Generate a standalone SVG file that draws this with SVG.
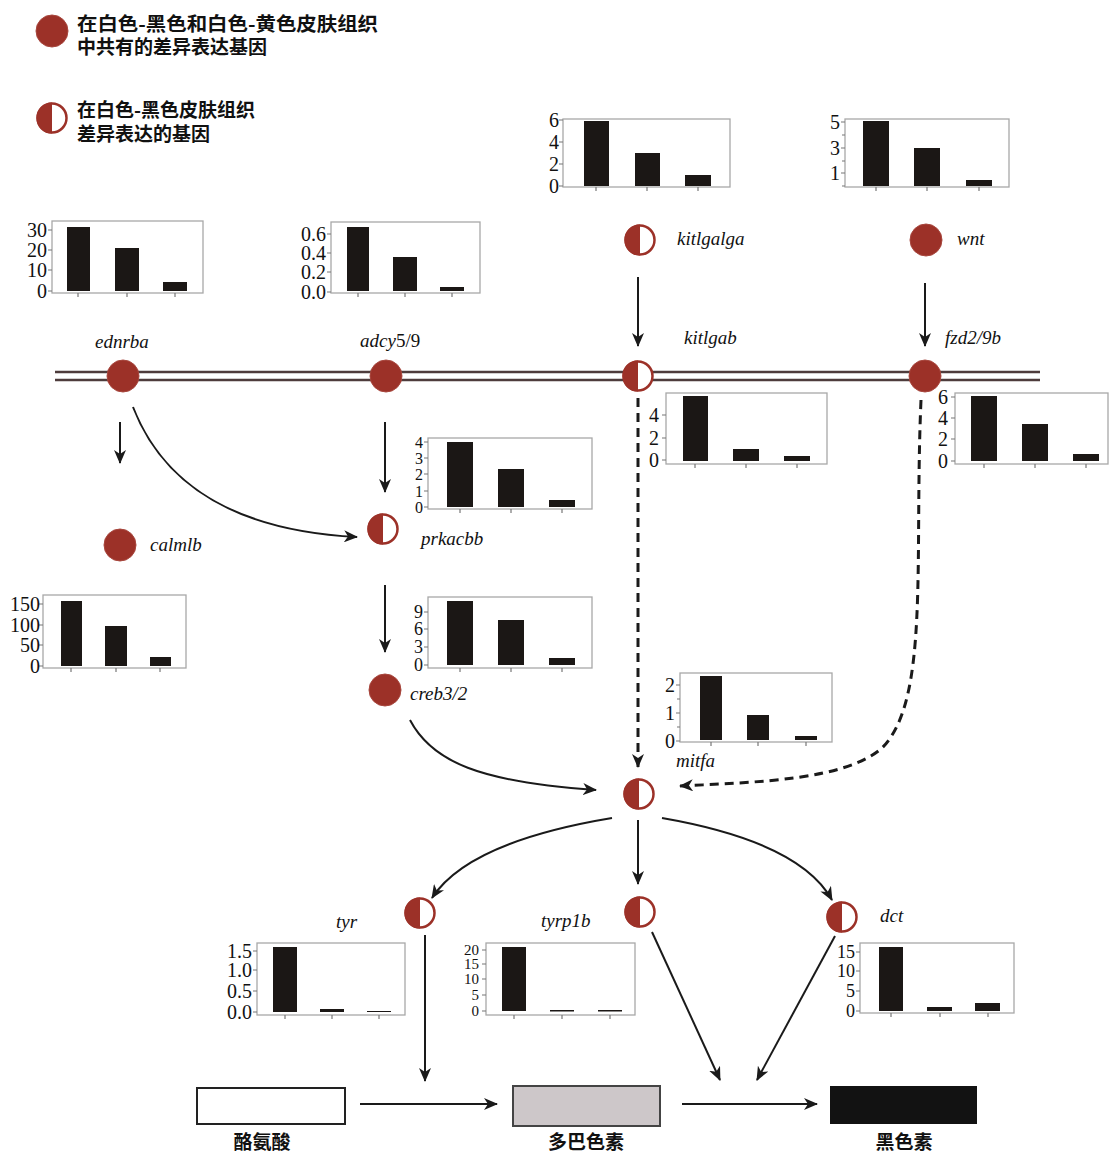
<svg xmlns="http://www.w3.org/2000/svg" width="1110" height="1153" viewBox="0 0 1110 1153">
<style>
.cjk{font-family:"Noto Sans CJK SC","Noto Sans CJK JP",sans-serif;font-weight:bold;font-size:19px;fill:#111}
.gene{font-family:"Liberation Serif",serif;font-style:italic;font-size:19px;fill:#111}
.ax{font-family:"Liberation Serif",serif;font-size:20px;fill:#111;text-anchor:end}
.axs{font-size:16px}
.frame{fill:#fff;stroke:#a8a8a8;stroke-width:1.3}
.bar{fill:#1b1715}
.tick{stroke:#777;stroke-width:1.2}
.arr{fill:none;stroke:#1a1a1a;stroke-width:2;marker-end:url(#ah)}
.dash{fill:none;stroke:#1a1a1a;stroke-width:3;stroke-dasharray:9 6;marker-end:url(#ah)}
.rail{stroke:#4e3c3c;stroke-width:2.5}
</style>
<defs>
<marker id="ah" markerUnits="userSpaceOnUse" markerWidth="14" markerHeight="12" refX="13" refY="6" orient="auto">
<path d="M0,0 L14,6 L0,12 L4,6 Z" fill="#1a1a1a"/>
</marker>
<g id="full"><circle r="16" fill="#9c3128" stroke="#a8473e" stroke-width="1"/></g>
<g id="half"><circle r="14.5" fill="#fff" stroke="#9c3128" stroke-width="2.5"/><path d="M0,-15.5 A15.5,15.5 0 0 0 0,15.5 Z" fill="#9c3128"/></g>
</defs>

<!-- legend -->
<g id="legend">
<use href="#full" x="52" y="31"/>
<text class="cjk" x="77" y="31" textLength="301" lengthAdjust="spacingAndGlyphs">在白色-黑色和白色-黄色皮肤组织</text>
<text class="cjk" x="77" y="54">中共有的差异表达基因</text>
<use href="#half" x="52" y="118"/>
<text class="cjk" x="77" y="117">在白色-黑色皮肤组织</text>
<text class="cjk" x="77" y="141">差异表达的基因</text>
</g>

<!-- membrane -->
<g id="membrane">
<line class="rail" x1="55" y1="372" x2="1040" y2="372"/>
<line class="rail" x1="55" y1="380" x2="1040" y2="380"/>
</g>

<!-- connectors -->
<g id="connectors">
<line class="arr" x1="638" y1="277" x2="638" y2="346"/>
<line class="arr" x1="925" y1="283" x2="925" y2="346"/>
<line class="arr" x1="120" y1="422" x2="120" y2="463"/>
<path class="arr" d="M133,407 Q180,528 357,537"/>
<line class="arr" x1="385" y1="422" x2="385" y2="492"/>
<line class="arr" x1="385" y1="585" x2="385" y2="652"/>
<path class="arr" d="M410,720 C432,762 480,782 596,790"/>
<line class="dash" x1="638" y1="398" x2="638" y2="767"/>
<path class="dash" d="M921,400 C914,560 930,700 882,748 C845,780 760,782 680,786"/>
<path class="arr" d="M612,818 Q468,842 432,898"/>
<line class="arr" x1="638" y1="820" x2="638" y2="884"/>
<path class="arr" d="M662,818 Q800,842 832,900"/>
<line class="arr" x1="425" y1="935" x2="425" y2="1081"/>
<line class="arr" x1="652" y1="932" x2="720" y2="1080"/>
<line class="arr" x1="835" y1="936" x2="757" y2="1080"/>
<line class="arr" x1="360" y1="1104" x2="497" y2="1104"/>
<line class="arr" x1="682" y1="1104" x2="817" y2="1104"/>
</g>

<!-- nodes -->
<g id="n-kitlgalga"><use href="#half" x="640" y="240"/><text class="gene" x="677" y="245">kitlgalga</text></g>
<g id="n-wnt"><use href="#full" x="926" y="240"/><text class="gene" x="957" y="245">wnt</text></g>
<g id="n-ednrba"><use href="#full" x="123" y="376"/><text class="gene" x="95" y="348">ednrba</text></g>
<g id="n-adcy"><use href="#full" x="386" y="376"/><text class="gene" x="360" y="347">adcy<tspan font-style="normal">5/9</tspan></text></g>
<g id="n-kitlgab"><use href="#half" x="638" y="376"/><text class="gene" x="684" y="344">kitlgab</text></g>
<g id="n-fzd2"><use href="#full" x="925" y="376"/><text class="gene" x="945" y="344">fzd2/9b</text></g>
<g id="n-calmlb"><use href="#full" x="120" y="545"/><text class="gene" x="150" y="551">calmlb</text></g>
<g id="n-prkacbb"><use href="#half" x="383" y="529"/><text class="gene" x="421" y="545">prkacbb</text></g>
<g id="n-creb"><use href="#full" x="385" y="690"/><text class="gene" x="410" y="700">creb3/2</text></g>
<g id="n-mitfa"><use href="#half" x="639" y="794"/><text class="gene" x="676" y="767">mitfa</text></g>
<g id="n-tyr"><use href="#half" x="420" y="913"/><text class="gene" x="336" y="928">tyr</text></g>
<g id="n-tyrp1b"><use href="#half" x="640" y="912"/><text class="gene" x="541" y="927">tyrp1b</text></g>
<g id="n-dct"><use href="#half" x="842" y="917"/><text class="gene" x="880" y="922">dct</text></g>

<!-- substrates -->
<g id="n-tyrosine"><rect x="197" y="1088" width="148" height="36" fill="#fff" stroke="#222" stroke-width="2"/><text class="cjk" x="262" y="1149" text-anchor="middle">酪氨酸</text></g>
<g id="n-dopachrome"><rect x="513" y="1086" width="147" height="40" fill="#cdc7c9" stroke="#444" stroke-width="2"/><text class="cjk" x="586" y="1149" text-anchor="middle">多巴色素</text></g>
<g id="n-melanin"><rect x="830" y="1086" width="147" height="38" fill="#121212"/><text class="cjk" x="904" y="1149" text-anchor="middle">黑色素</text></g>

<!-- charts -->
<g id="c-ednrba">
<rect class="frame" x="52" y="221" width="151" height="72"/>
<rect class="bar" x="67" y="227" width="23" height="64"/><rect class="bar" x="115" y="248" width="24" height="43"/><rect class="bar" x="163" y="282" width="24" height="9"/>
<path class="tick" d="M48,230H52M48,250H52M48,270H52M48,291H52M78,293V297M127,293V297M175,293V297"/>
<text class="ax" x="47" y="237">30</text><text class="ax" x="47" y="257">20</text><text class="ax" x="47" y="277">10</text><text class="ax" x="47" y="298">0</text>
</g>
<g id="c-adcy">
<rect class="frame" x="331" y="222" width="149" height="71"/>
<rect class="bar" x="347" y="227" width="22" height="64"/><rect class="bar" x="393" y="257" width="24" height="34"/><rect class="bar" x="440" y="287" width="24" height="4"/>
<path class="tick" d="M327,234H331M327,253H331M327,272H331M327,292H331M358,293V297M405,293V297M452,293V297"/>
<text class="ax" x="326" y="241">0.6</text><text class="ax" x="326" y="260">0.4</text><text class="ax" x="326" y="279">0.2</text><text class="ax" x="326" y="299">0.0</text>
</g>
<g id="c-kitlgalga">
<rect class="frame" x="563" y="119" width="167" height="68"/>
<rect class="bar" x="584" y="121" width="25" height="65"/><rect class="bar" x="635" y="153" width="25" height="33"/><rect class="bar" x="685" y="175" width="26" height="11"/>
<path class="tick" d="M559,120H563M559,142H563M559,164H563M559,186H563M596,187V191M647,187V191M698,187V191"/>
<text class="ax" x="559" y="127">6</text><text class="ax" x="559" y="149">4</text><text class="ax" x="559" y="171">2</text><text class="ax" x="559" y="193">0</text>
</g>
<g id="c-wnt">
<rect class="frame" x="845" y="119" width="164" height="68"/>
<rect class="bar" x="863" y="121" width="26" height="65"/><rect class="bar" x="914" y="148" width="26" height="38"/><rect class="bar" x="966" y="180" width="26" height="6"/>
<path class="tick" d="M841,122H845M842,135H845M841,148H845M842,161H845M841,173H845M842,186H845M876,187V191M927,187V191M979,187V191"/>
<text class="ax" x="840" y="129">5</text><text class="ax" x="840" y="155">3</text><text class="ax" x="840" y="180">1</text>
</g>
<g id="c-kitlgab">
<rect class="frame" x="666" y="393" width="161" height="71"/>
<rect class="bar" x="683" y="396" width="25" height="65"/><rect class="bar" x="733" y="449" width="26" height="12"/><rect class="bar" x="784" y="456" width="26" height="5"/>
<path class="tick" d="M662,415H666M662,438H666M662,460H666M695,464V468M746,464V468M797,464V468"/>
<text class="ax" x="659" y="422">4</text><text class="ax" x="659" y="445">2</text><text class="ax" x="659" y="467">0</text>
</g>
<g id="c-fzd2">
<rect class="frame" x="955" y="393" width="153" height="71"/>
<rect class="bar" x="971" y="396" width="26" height="65"/><rect class="bar" x="1022" y="424" width="26" height="37"/><rect class="bar" x="1073" y="454" width="26" height="7"/>
<path class="tick" d="M951,397H955M951,418H955M951,439H955M951,461H955M984,464V468M1035,464V468M1086,464V468"/>
<text class="ax" x="948" y="404">6</text><text class="ax" x="948" y="425">4</text><text class="ax" x="948" y="446">2</text><text class="ax" x="948" y="468">0</text>
</g>
<g id="c-prkacbb">
<rect class="frame" x="428" y="438" width="164" height="71"/>
<rect class="bar" x="447" y="442" width="26" height="65"/><rect class="bar" x="498" y="469" width="26" height="38"/><rect class="bar" x="549" y="500" width="26" height="7"/>
<path class="tick" d="M424,442H428M424,458H428M424,474H428M424,491H428M424,507H428M460,509V513M511,509V513M562,509V513"/>
<g class="ax axs"><text x="423" y="448">4</text><text x="423" y="464">3</text><text x="423" y="480">2</text><text x="423" y="497">1</text><text x="423" y="513">0</text></g>
</g>
<g id="c-creb">
<rect class="frame" x="428" y="597" width="164" height="71"/>
<rect class="bar" x="447" y="601" width="26" height="64"/><rect class="bar" x="498" y="620" width="26" height="45"/><rect class="bar" x="549" y="658" width="26" height="7"/>
<path class="tick" d="M424,612H428M424,629H428M424,647H428M424,665H428M460,668V672M511,668V672M562,668V672"/>
<g class="ax" style="font-size:18px"><text x="423" y="618">9</text><text x="423" y="635">6</text><text x="423" y="653">3</text><text x="423" y="671">0</text></g>
</g>
<g id="c-calmlb">
<rect class="frame" x="43" y="595" width="143" height="73"/>
<rect class="bar" x="61" y="601" width="21" height="65"/><rect class="bar" x="105" y="626" width="22" height="40"/><rect class="bar" x="150" y="657" width="21" height="9"/>
<path class="tick" d="M39,604H43M39,625H43M39,645H43M39,666H43M71,668V672M116,668V672M160,668V672"/>
<text class="ax" x="40" y="611">150</text><text class="ax" x="40" y="632">100</text><text class="ax" x="40" y="652">50</text><text class="ax" x="40" y="673">0</text>
</g>
<g id="c-mitfa">
<rect class="frame" x="680" y="673" width="152" height="69"/>
<rect class="bar" x="700" y="676" width="22" height="64"/><rect class="bar" x="747" y="715" width="22" height="25"/><rect class="bar" x="795" y="736" width="22" height="4"/>
<path class="tick" d="M676,685H680M677,699H680M676,713H680M677,727H680M676,741H680M711,742V746M758,742V746M806,742V746"/>
<text class="ax" x="675" y="692">2</text><text class="ax" x="675" y="720">1</text><text class="ax" x="675" y="748">0</text>
</g>
<g id="c-tyr">
<rect class="frame" x="257" y="943" width="148" height="72"/>
<rect class="bar" x="273" y="947" width="24" height="65"/><rect class="bar" x="320" y="1009" width="24" height="3"/><rect class="bar" x="367" y="1011" width="24" height="1"/>
<path class="tick" d="M253,951H257M253,970H257M253,991H257M253,1012H257M285,1015V1019M332,1015V1019M379,1015V1019"/>
<text class="ax" x="252" y="958">1.5</text><text class="ax" x="252" y="977">1.0</text><text class="ax" x="252" y="998">0.5</text><text class="ax" x="252" y="1019">0.0</text>
</g>
<g id="c-tyrp1b">
<rect class="frame" x="486" y="943" width="149" height="72"/>
<rect class="bar" x="502" y="947" width="24" height="64"/><rect class="bar" x="550" y="1010" width="24" height="1.5"/><rect class="bar" x="598" y="1010" width="24" height="1.5"/>
<path class="tick" d="M482,950H486M482,964H486M482,979H486M482,995H486M482,1011H486M514,1015V1019M562,1015V1019M610,1015V1019"/>
<g class="ax" style="font-size:15px"><text x="479" y="955">20</text><text x="479" y="969">15</text><text x="479" y="984">10</text><text x="479" y="1000">5</text><text x="479" y="1016">0</text></g>
</g>
<g id="c-dct">
<rect class="frame" x="860" y="943" width="154" height="70"/>
<rect class="bar" x="879" y="947" width="24" height="64"/><rect class="bar" x="927" y="1007" width="25" height="4"/><rect class="bar" x="975" y="1003" width="25" height="8"/>
<path class="tick" d="M856,952H860M856,971H860M856,991H860M856,1011H860M891,1013V1017M940,1013V1017M988,1013V1017"/>
<g class="ax" style="font-size:18px"><text x="855" y="958">15</text><text x="855" y="977">10</text><text x="855" y="997">5</text><text x="855" y="1017">0</text></g>
</g>
</svg>
